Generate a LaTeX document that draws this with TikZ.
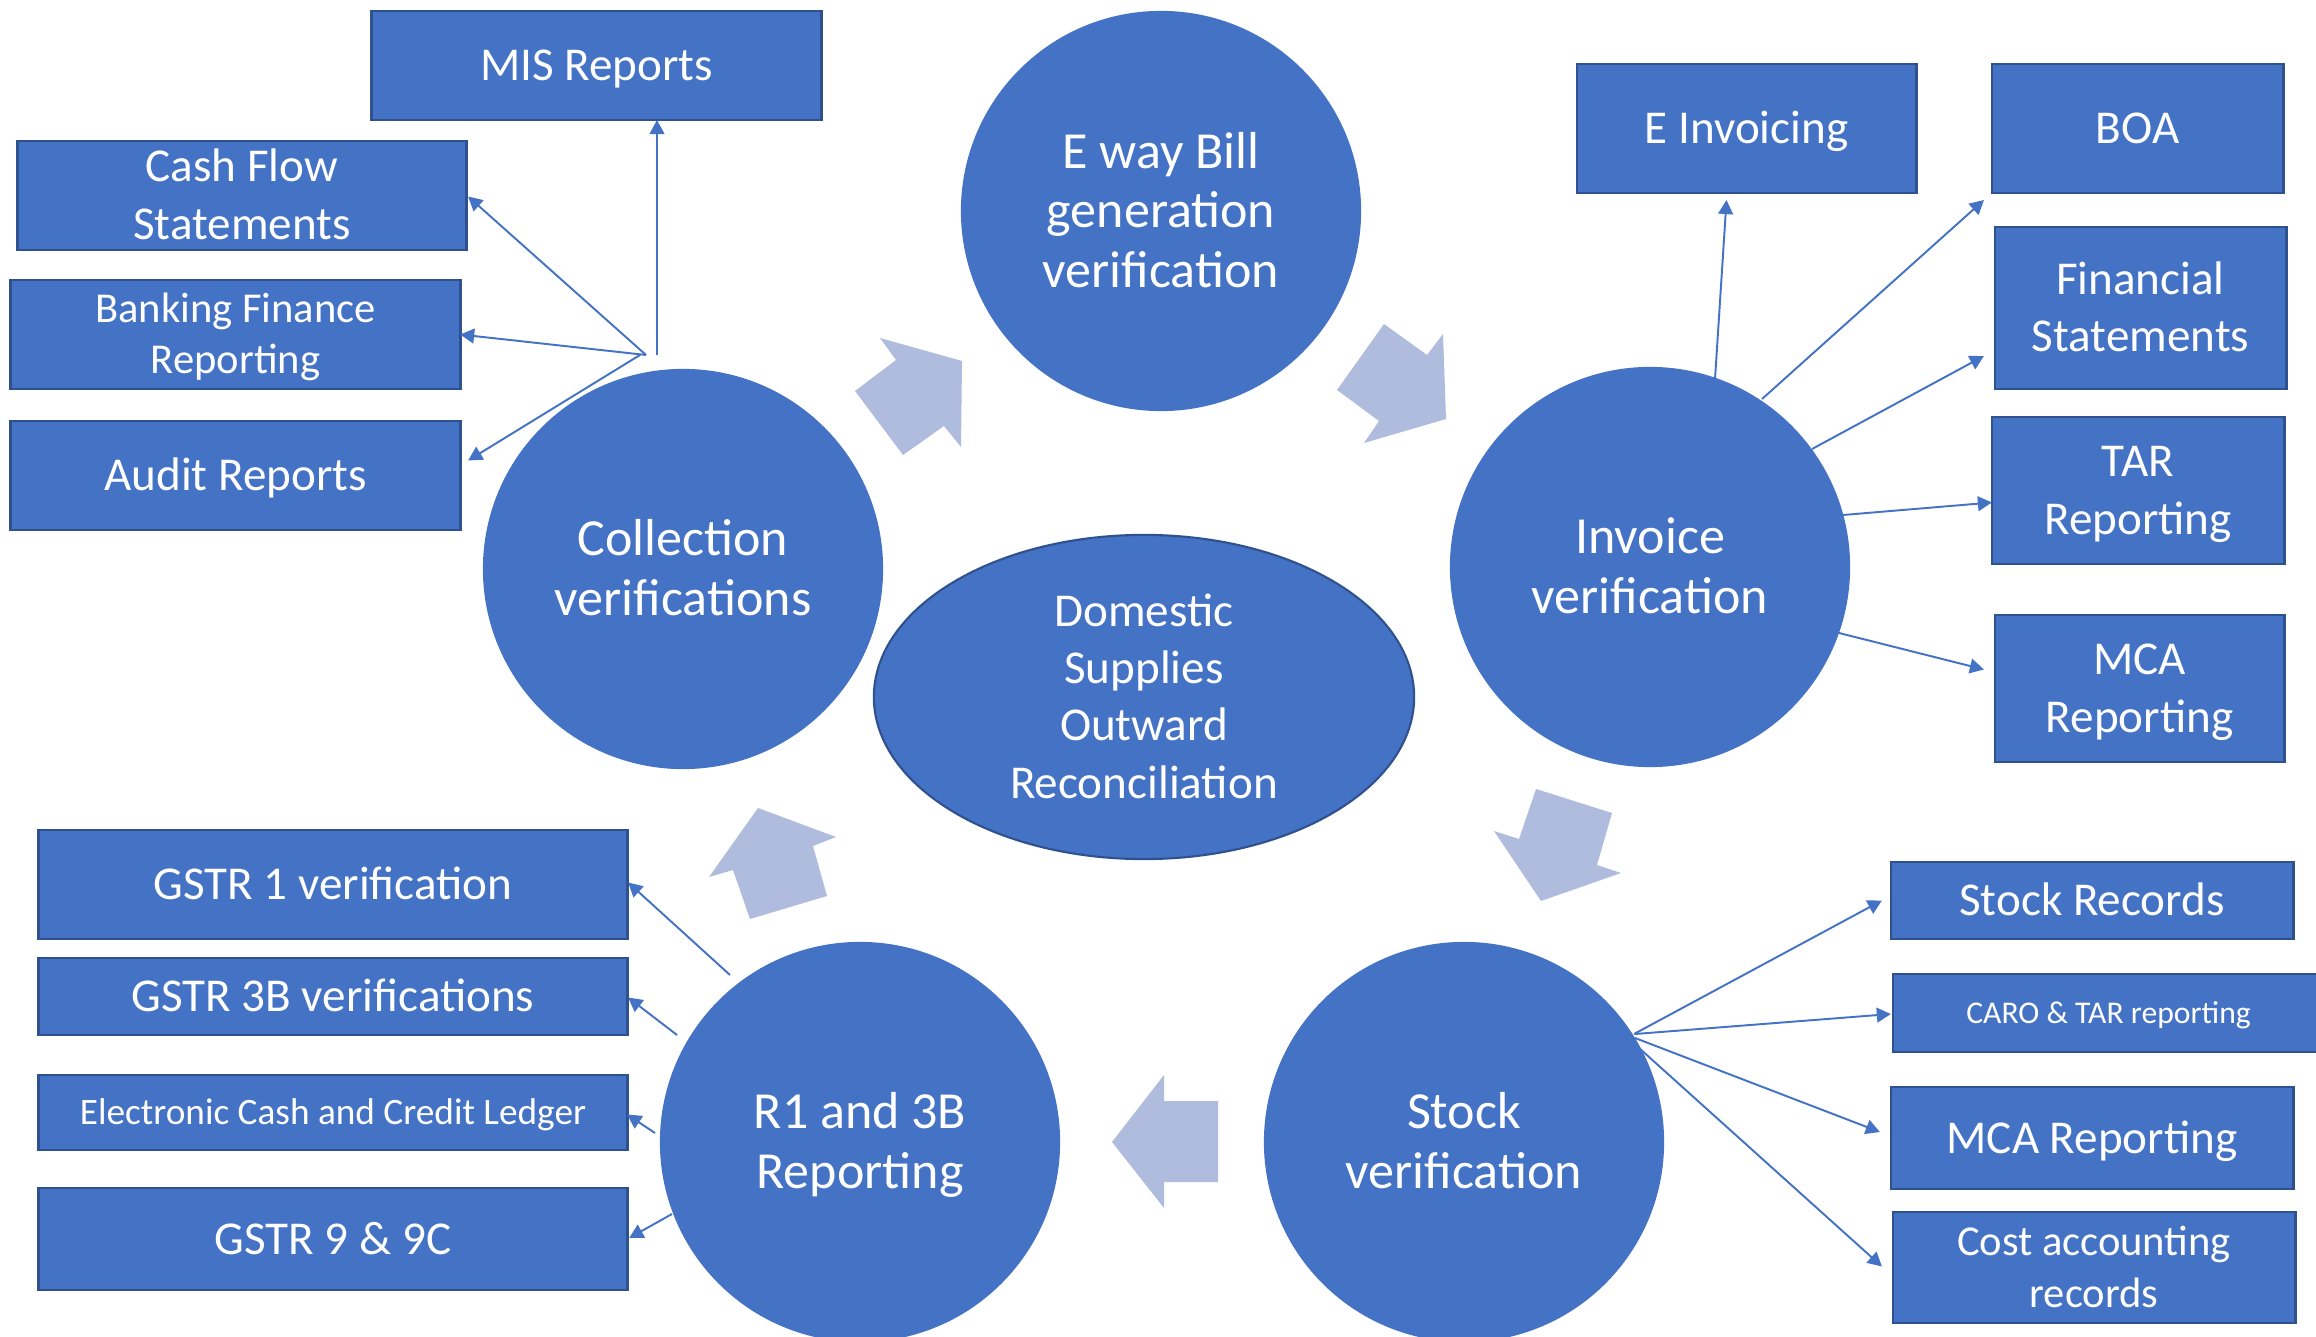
\documentclass[tikz,border=0pt]{standalone}
\usepackage{fontspec}
\setmainfont{Carlito}
\usetikzlibrary{arrows.meta,calc,shapes.geometric}
\definecolor{nodeblue}{HTML}{4472C4}
\definecolor{edgeblue}{HTML}{2F528F}
\definecolor{flowarrow}{RGB}{176,188,222}
% one line of node text, measured from cap height to baseline,
% so that the lines sit centred on their capitals
\newlength\capheight
\newcommand\capln[1]{\settoheight\capheight{H}\raisebox{0pt}[\capheight][0pt]{#1}}
\tikzset{
  stage/.style={circle, fill=nodeblue, minimum size=4cm, inner sep=0pt, outer sep=0pt,
    text=white, align=center, font=\fontsize{14.8}{16.9}\selectfont},
  core/.style={ellipse, fill=nodeblue, draw=edgeblue, line width=0.6pt, inner sep=0pt, outer sep=0pt,
    minimum width=5.4cm, minimum height=3.24cm, text=white, align=center,
    font=\fontsize{13.4}{16.3}\selectfont},
  report/.style={rectangle, fill=nodeblue, draw=edgeblue, line width=0.8pt, inner sep=0pt, outer sep=0pt,
    text=white, align=center, font=\fontsize{13.4}{16.4}\selectfont},
  smalltext/.style={font=\fontsize{12.1}{14.4}\selectfont},
  link/.style={draw=nodeblue, line width=0.55pt, -{Triangle[length=4pt,width=4.2pt]}},
  flow/.style={fill=flowarrow, draw=none},
}
\begin{document}
\begin{tikzpicture}[x=0.01cm,y=-0.01cm]
\useasboundingbox (0,0) rectangle (2316,1337);
\fill[white] (0,0) rectangle (2316,1337);

% cycle arrows between the stages
\fill[flow] (880,338) -- (962,361) -- (961,447) -- (944,426) -- (903,455) -- (855,391) -- (896,360) -- cycle;
\fill[flow] (1384,324) -- (1427,355) -- (1443,334) -- (1446,419) -- (1364,443) -- (1379,421) -- (1337,390) -- cycle;
\fill[flow] (1536,789) -- (1612,813) -- (1597,865) -- (1621,873) -- (1541,901) -- (1494,831) -- (1519,839) -- cycle;
\fill[flow] (1164,1075) -- (1164,1101) -- (1218,1101) -- (1218,1182) -- (1164,1182) -- (1164,1208) -- (1112,1142) -- cycle;
\fill[flow] (758,808) -- (836,837) -- (813,846) -- (827,896) -- (750,919) -- (733,870) -- (709,877) -- cycle;

% stages
\node[stage] (ewb) at (1161,211) {\capln{E way Bill}\\\capln{generation}\\\capln{verification}};
\node[stage] (col) at (683,569) {\capln{Collection}\\\capln{verifications}};
\node[stage] (inv) at (1650,567) {\capln{Invoice}\\\capln{verification}};
\node[stage] (stk) at (1464,1142) {\capln{Stock}\\\capln{verification}};
\node[stage] (r1) at (860,1142) {\capln{R1 and 3B}\\\capln{Reporting}};
\node[core] (hub) at (1144,697) {\capln{Domestic}\\\capln{Supplies}\\\capln{Outward}\\\capln{Reconciliation}};

% collection outputs
\node[report, minimum width=4.49cm, minimum height=1.09cm] (mis) at (596.5,65.5) {\capln{MIS Reports}};
\node[report, minimum width=4.48cm, minimum height=1.09cm] (cash) at (242,195.5) {\capln{Cash Flow}\\\capln{Statements}};
\node[report, smalltext, minimum width=4.49cm, minimum height=1.09cm] (bank) at (235.5,334.5) {\capln{Banking Finance}\\\capln{Reporting}};
\node[report, minimum width=4.49cm, minimum height=1.09cm] (audit) at (235.5,475.5) {\capln{Audit Reports}};

% invoice outputs
\node[report, minimum width=3.39cm, minimum height=1.29cm] (einv) at (1746.5,128.5) {\capln{E Invoicing}};
\node[report, minimum width=2.91cm, minimum height=1.29cm] (boa) at (2137.5,128.5) {\capln{BOA}};
\node[report, minimum width=2.91cm, minimum height=1.62cm] (fin) at (2140.5,308) {\capln{Financial}\\\capln{Statements}};
\node[report, minimum width=2.92cm, minimum height=1.47cm] (tar) at (2138,490.5) {\capln{TAR}\\\capln{Reporting}};
\node[report, minimum width=2.89cm, minimum height=1.47cm] (mcai) at (2139.5,688.5) {\capln{MCA}\\\capln{Reporting}};

% return filing outputs
\node[report, minimum width=5.88cm, minimum height=1.09cm] (g1) at (333,884.5) {\capln{GSTR 1 verification}};
\node[report, minimum width=5.88cm, minimum height=0.77cm] (g3) at (333,996.5) {\capln{GSTR 3B verifications}};
\node[report, font=\fontsize{10.6}{13}\selectfont, minimum width=5.88cm, minimum height=0.75cm] (ecl) at (333,1112.5) {\capln{Electronic Cash and Credit Ledger}};
\node[report, minimum width=5.88cm, minimum height=1.02cm] (g9) at (333,1239) {\capln{GSTR 9 \& 9C}};

% stock outputs
\node[report, minimum width=4.02cm, minimum height=0.77cm] (srec) at (2092,900.5) {\capln{Stock Records}};
\node[report, font=\fontsize{9}{11}\selectfont, minimum width=4.31cm, minimum height=0.78cm] (caro) at (2108.5,1013) {\capln{CARO \& TAR reporting}};
\node[report, minimum width=4.02cm, minimum height=1.02cm] (mcar) at (2092,1138) {\capln{MCA Reporting}};
\node[report, font=\fontsize{12.1}{14.7}\selectfont, minimum width=4.02cm, minimum height=1.11cm] (cost) at (2094,1267.5) {\capln{Cost accounting}\\\capln{records}};

% connectors from collection
\coordinate (colHub) at ($(col.center)+(-37,-214)$);
\coordinate (colMis) at ($(col.center)+(-26,-214)$);
\coordinate (colAud) at ($(col.center)+(-43,-214)$);
\draw[link] (colMis) -- (colMis |- mis.south);
\draw[link] (colHub) -- ($(cash.east)+(2,1)$);
\draw[link] (colHub) -- (bank.east);
\draw[link] (colAud) -- ($(audit.east)+(8,-15)$);

% connectors from invoice
\draw[link] ($(inv.center)+(65,-188)$) -- ($(einv.south)+(-20,7)$);
\draw[link] ($(inv.center)+(112,-168)$) -- ($(boa.south west)+(-8,7)$);
\draw[link] ($(inv.center)+(162,-118)$) -- ($(fin.west)+(-11,48)$);
\draw[link] ($(inv.center)+(193,-52)$) -- ($(tar.west)+(0,12)$);
\draw[link] ($(inv.center)+(189,66)$) -- ($(mcai.west)+(-11,-19)$);

% connectors from R1 and 3B
\draw[link] ($(r1.center)+(-130,-167)$) -- ($(g1.east)+(1,-2)$);
\draw[link] ($(r1.center)+(-183,-107)$) -- ($(g3.east)+(1,1)$);
\draw[link] ($(r1.center)+(-205,-9)$) -- ($(ecl.east)+(0,2)$);
\draw[link] ($(r1.center)+(-188,72)$) -- ($(g9.east)+(2,-1)$);

% connectors from stock
\draw[link] ($(stk.center)+(170,-108)$) -- ($(srec.west)+(-9,0)$);
\draw[link] ($(stk.center)+(171,-108)$) -- ($(caro.west)+(-2,1)$);
\draw[link] ($(stk.center)+(171,-104)$) -- ($(mcar.west)+(-11,-6)$);
\draw[link] ($(stk.center)+(175,-94)$) -- ($(cost.west)+(-11,-1)$);
\end{tikzpicture}
\end{document}
